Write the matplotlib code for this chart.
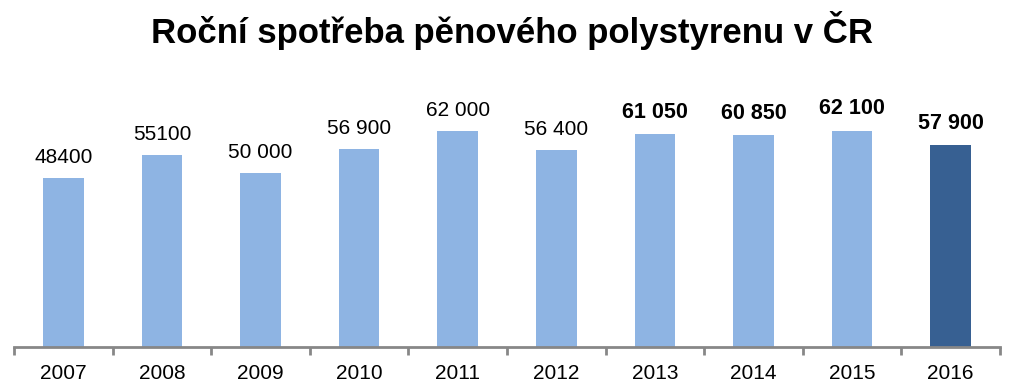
import matplotlib
matplotlib.use("Agg")
import matplotlib.pyplot as plt
from matplotlib.ticker import FixedLocator

years = ["2007", "2008", "2009", "2010", "2011", "2012", "2013", "2014", "2015", "2016"]
values = [48400, 55100, 50000, 56900, 62000, 56400, 61050, 60850, 62100, 57900]
labels = ["48400", "55100", "50 000", "56 900", "62 000", "56 400", "61 050", "60 850", "62 100", "57 900"]
bold = [False, False, False, False, False, False, True, True, True, True]

plt.rcParams['font.family'] = ['Liberation Sans', 'DejaVu Sans']

fig = plt.figure(figsize=(10.24, 3.92), dpi=100)
ax = fig.add_axes([14/1024, 1 - 347/392, 986/1024, (347 - 103)/392])

x = list(range(len(years)))
colors = ["#8EB4E3"] * (len(years) - 1) + ["#376092"]
ax.bar(x, values, width=0.41, color=colors, zorder=2)

for xi, v, lab, b in zip(x, values, labels, bold):
    ax.annotate(lab, (xi, v), xytext=(0, 8), textcoords="offset points",
                ha="center", va="bottom", fontsize=15 if not b else 15.5,
                fontweight="bold" if b else "normal", color="#000000")

ax.set_xlim(-0.5, len(years) - 0.5)
ax.set_ylim(0, 70000)
for s in ["top", "right", "left"]:
    ax.spines[s].set_visible(False)
ax.spines["bottom"].set_color("#878787")
ax.spines["bottom"].set_linewidth(2)
ax.set_yticks([])

ax.xaxis.set_major_locator(FixedLocator([i - 0.5 for i in range(len(years) + 1)]))
ax.set_xticklabels([])
ax.set_xticks(x, minor=True)
ax.set_xticklabels(years, minor=True, fontsize=15)
ax.tick_params(axis="x", which="major", length=6, width=2, color="#878787")
ax.tick_params(axis="x", which="minor", length=0, pad=12)

fig.text(0.5, 1 - 30/392, "Roční spotřeba pěnového polystyrenu v ČR", ha="center", va="center",
         fontsize=25, fontweight="bold")

fig.savefig("out.png", dpi=100)
